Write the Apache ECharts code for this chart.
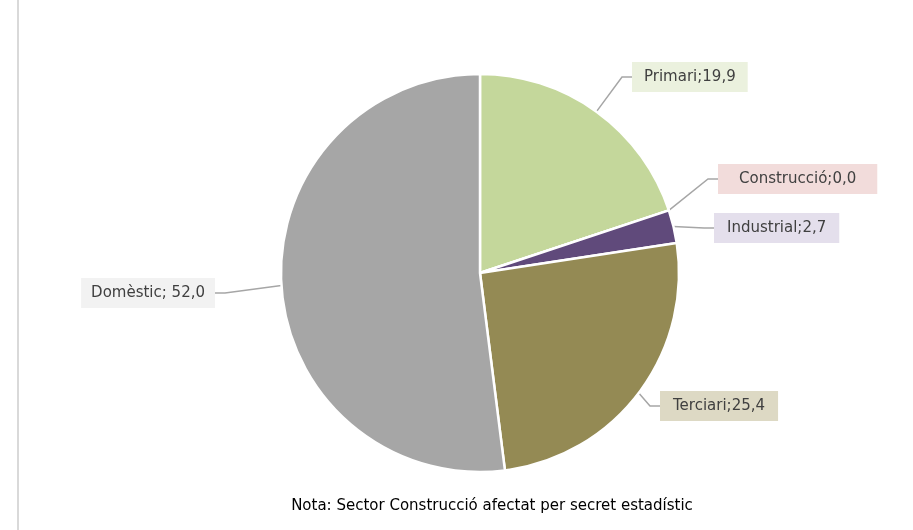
<!DOCTYPE html>
<html>
<head>
<meta charset="utf-8">
<script src="https://cdn.jsdelivr.net/npm/echarts@6/dist/echarts.min.js"></script>
<style>
  html, body { margin: 0; padding: 0; background: #fff; }
  #main { width: 913px; height: 530px; }
</style>
</head>
<body>
<div id="main"></div>
<script>
var sectors = ['Primari', 'Construcció', 'Industrial', 'Terciari', 'Domèstic'];
var shares = [19.9, 0.0, 2.7, 25.4, 52.0];
var sliceColors = ['#c4d79b', '#d99694', '#604a7b', '#948a54', '#a6a6a6'];
var labelBgs = ['#ebf1de', '#f2dcdb', '#e4dfec', '#ddd9c4', '#f2f2f2'];
var noteText = 'Nota: Sector Construcció afectat per secret estadístic';

// where each label box sits (left/right edge x, middle y) and its side padding
var labelSpots = [
    { x: 632, y: 77, align: 'left', pad: 12 },
    { x: 718, y: 179, align: 'left', pad: 21 },
    { x: 714, y: 228, align: 'left', pad: 13 },
    { x: 660, y: 406, align: 'left', pad: 13 },
    { x: 215, y: 293, align: 'right', pad: 10 }
];

function fmt(v) {
    return v.toFixed(1).replace('.', ',');
}

var chart = echarts.init(document.getElementById('main'));

var pieData = sectors.map(function (name, i) {
    var p = labelSpots[i].pad;
    return {
        name: name,
        value: shares[i],
        itemStyle: { color: sliceColors[i] },
        label: { backgroundColor: labelBgs[i], padding: [8, p, 7, p] }
    };
});

var option = {
    animation: false,
    backgroundColor: '#ffffff',
    title: {
        text: noteText,
        left: 487,
        textAlign: 'center',
        top: 494,
        textStyle: {
            fontFamily: 'DejaVu Sans',
            fontSize: 15,
            fontWeight: 'normal',
            color: '#000000'
        }
    },
    graphic: [{
        type: 'rect',
        shape: { x: 17, y: 0, width: 2, height: 530 },
        style: { fill: '#d9d9d9' },
        silent: true
    }],
    series: [{
        type: 'pie',
        center: [480, 273],
        radius: 199,
        startAngle: 90,
        clockwise: true,
        avoidLabelOverlap: false,
        data: pieData,
        itemStyle: { borderColor: '#ffffff', borderWidth: 2.5 },
        label: {
            show: true,
            position: 'outside',
            fontFamily: 'DejaVu Sans',
            fontSize: 15,
            color: '#404040',
            formatter: function (p) {
                var sep = p.name === 'Domèstic' ? '; ' : ';';
                return p.name + sep + fmt(p.value);
            }
        },
        labelLine: {
            show: true,
            length: 20,
            length2: 10,
            lineStyle: { color: '#a6a6a6', width: 1.5 }
        },
        labelLayout: function (params) {
            var s = labelSpots[params.dataIndex];
            return { x: s.x, y: s.y, align: s.align, verticalAlign: 'middle' };
        }
    }]
};

chart.setOption(option);
</script>
</body>
</html>
